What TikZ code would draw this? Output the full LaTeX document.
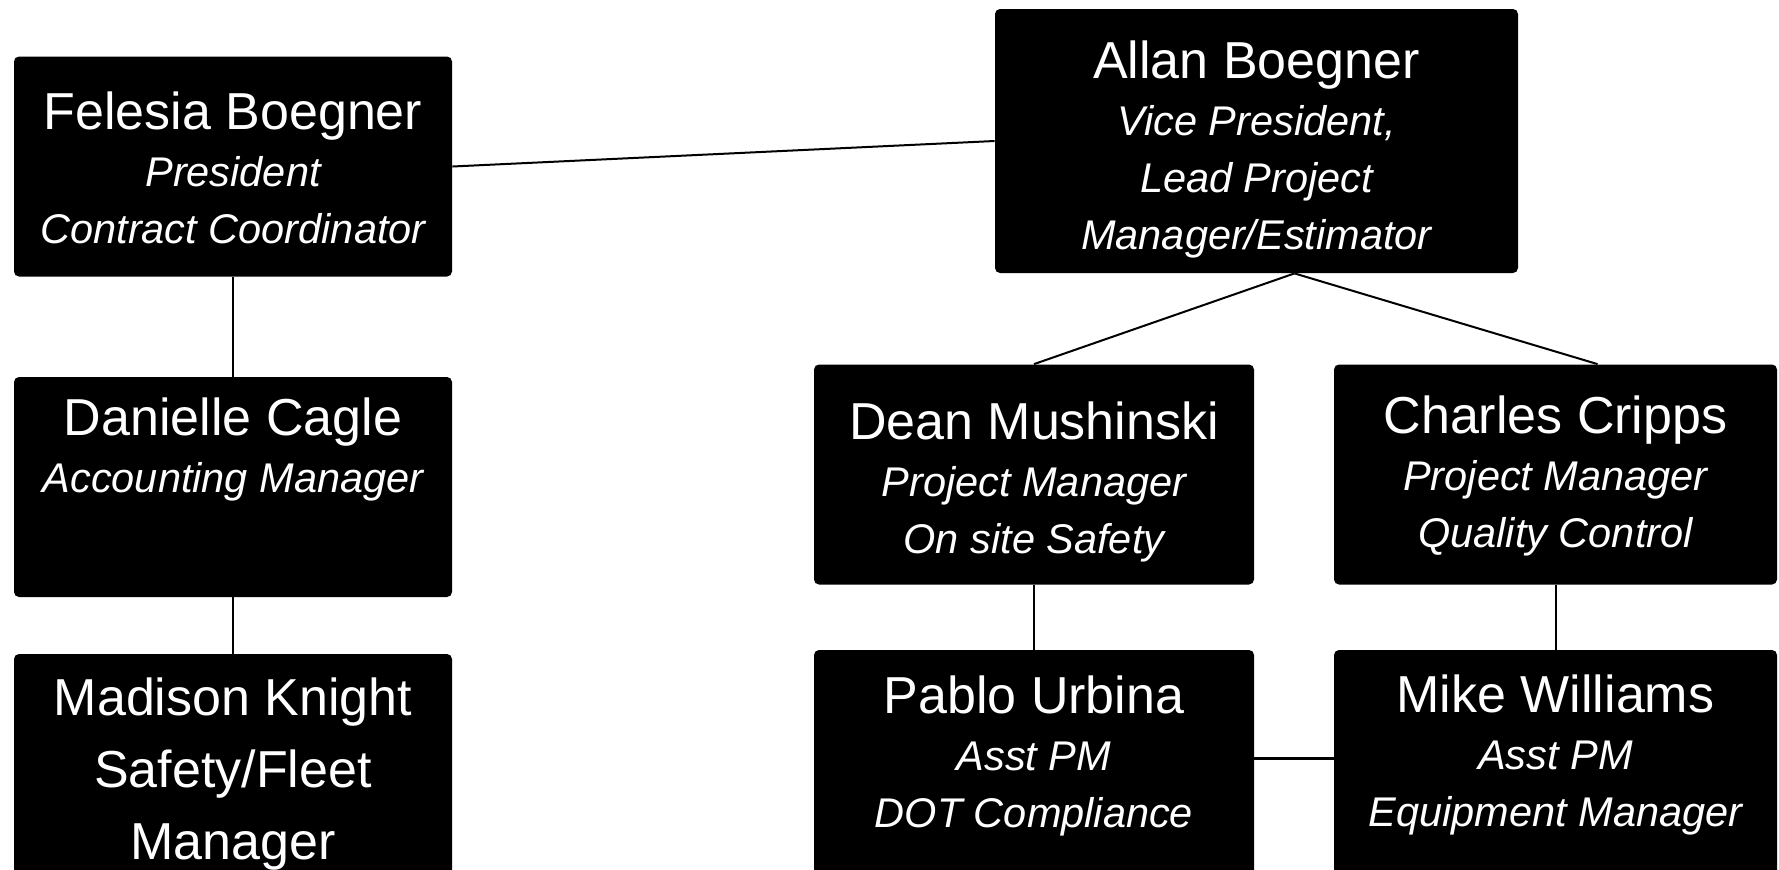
\documentclass[tikz,border=0pt]{standalone}
\usepackage{fontspec}
\setmainfont{Liberation Sans}
\usetikzlibrary{calc}

\newcommand{\roleline}[1]{{\fontsize{20.75}{28.5}\selectfont\itshape #1}}

\begin{document}
\begin{tikzpicture}[
  x=0.5pt, y=-0.5pt,
  box/.style={
    fill=black,
    draw=none,
    rounded corners=2.5pt,
    minimum width=219pt,
    minimum height=110pt,
    inner sep=0pt
  },
  who/.style={
    anchor=base,
    align=center,
    text=white,
    inner sep=0pt,
    font=\fontsize{26}{28.5}\selectfont
  },
  link/.style={draw=black, line width=1pt}
]
\useasboundingbox (0,0) rectangle (1779,869);

% Left column (text placed by its last baseline)
\node[box] (fel) at (233,166.5) {};
\node[who] (felt) at (233,243) {Felesia Boegner\\\roleline{President}\\\roleline{Contract Coordinator}};

\node[box, minimum height=110pt] (dan) at (233,487) {};
\node[who] (dant) at (233,492) {Danielle Cagle\\\roleline{Accounting Manager}};

\node[box, minimum height=120pt] (mad) at (233,774) {};
\node[who, font=\fontsize{26}{36}\selectfont] (madt) at (233,859) {Madison Knight\\Safety/Fleet\\Manager};

% Vice president
\node[box, minimum width=261.5pt, minimum height=132pt] (allan) at (1256.5,141) {};
\node[who] (allant) at (1256.5,249) {Allan Boegner\\\roleline{Vice President,}\\\roleline{Lead Project}\\\roleline{Manager/Estimator}};

% Project managers
\node[box, minimum width=220pt] (dean) at (1034,474.5) {};
\node[who] (deant) at (1034,553) {Dean Mushinski\\\roleline{Project Manager}\\\roleline{On site Safety}};

\node[box, minimum width=221.5pt] (chas) at (1555.5,474.5) {};
\node[who] (chast) at (1555.5,547) {Charles Cripps\\\roleline{Project Manager}\\\roleline{Quality Control}};

% Assistant PMs
\node[box, minimum width=220pt, minimum height=120pt] (pablo) at (1034,770) {};
\node[who] (pablot) at (1034,827) {Pablo Urbina\\\roleline{Asst PM}\\\roleline{DOT Compliance}};

\node[box, minimum width=221.5pt, minimum height=120pt] (mike) at (1555.5,770) {};
\node[who] (miket) at (1555.5,826) {Mike Williams\\\roleline{Asst PM}\\\roleline{Equipment Manager}};

% Connectors
\coordinate (fork) at ($(allan.south)+(38,0)$);
\coordinate (chastop) at ($(chas.north)+(42,0)$);
\draw[link] (fel.east) -- (allan.west);
\draw[link] (fel.south) -- (dan.north);
\draw[link] (dan.south) -- (mad.north);
\draw[link] (fork) -- (dean.north);
\draw[link] (fork) -- (chastop);
\draw[link] (dean.south) -- (pablo.north);
\draw[link] (chas.south) -- (mike.north);
\draw[link, line width=1.5pt] ($(pablo.east)+(0,-12)$) -- ($(mike.west)+(0,-12)$);

\end{tikzpicture}
\end{document}
